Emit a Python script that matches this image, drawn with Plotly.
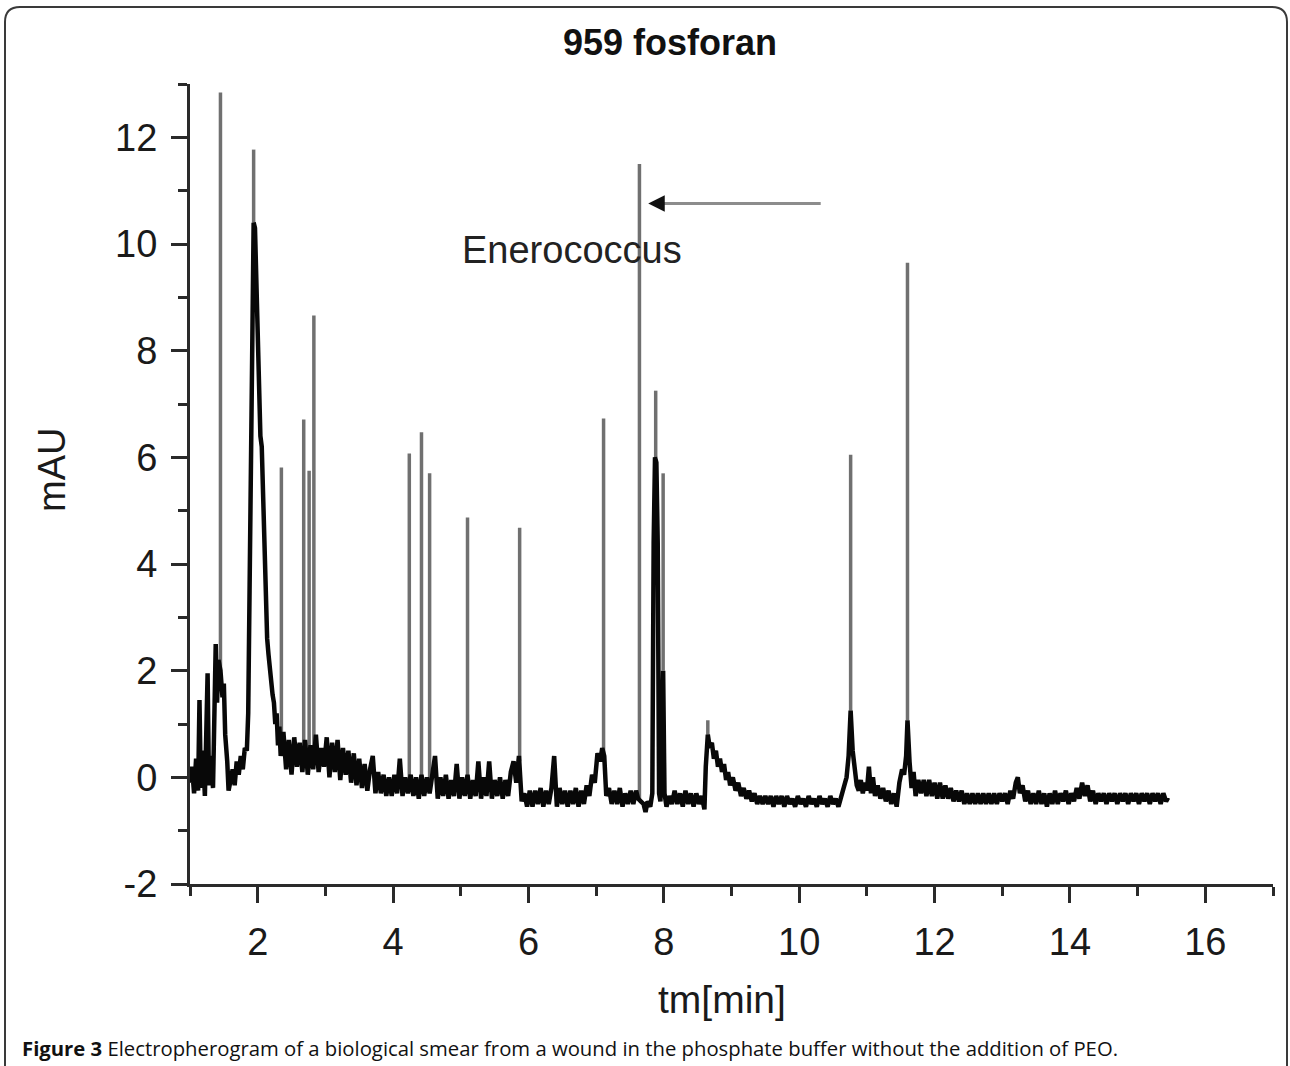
import plotly.graph_objects as go

# ---------------- data ----------------
# baseline / broad trace segments (time in min, signal in mAU)
t_early = [1.00, 1.03, 1.06, 1.09, 1.12, 1.14, 1.16, 1.19, 1.22, 1.24,
           1.26, 1.28, 1.31, 1.34, 1.36, 1.38, 1.40, 1.42, 1.45, 1.48,
           1.50, 1.52, 1.55, 1.57, 1.60, 1.63, 1.66, 1.69, 1.72, 1.75,
           1.78, 1.81, 1.84, 1.86, 1.88, 1.90, 1.92, 1.94, 1.96, 1.98,
           2.00, 2.02, 2.04, 2.06, 2.08, 2.10, 2.12, 2.14, 2.16, 2.18,
           2.20, 2.22, 2.24, 2.26, 2.28, 2.30, 2.32, 2.34]
v_early = [-0.10, 0.20, -0.30, 0.35, -0.25, 1.45, -0.20, 0.50, -0.35, 0.60,
           1.95, -0.15, 0.40, -0.20, 1.20, 2.50, 1.40, 2.20, 2.00, 1.50,
           1.76, 0.80, 0.30, -0.25, -0.05, 0.15, -0.15, 0.30, 0.05, 0.40,
           0.15, 0.55, 0.50, 1.20, 3.50, 6.50, 9.20, 10.40, 10.30, 9.20,
           8.00, 6.90, 6.40, 6.20, 5.20, 4.00, 3.10, 2.60, 2.30, 2.00,
           1.75, 1.55, 1.40, 1.00, 1.20, 0.60, 0.95, 0.40]

t_mid = [2.38, 2.42, 2.46, 2.50, 2.54, 2.58, 2.62, 2.66, 2.70, 2.74,
         2.78, 2.82, 2.86, 2.90, 2.94, 2.98, 3.02, 3.06, 3.10, 3.14,
         3.18, 3.22, 3.26, 3.30, 3.34, 3.38, 3.42, 3.46, 3.50, 3.54,
         3.58, 3.62, 3.66, 3.70, 3.74, 3.78, 3.82, 3.86, 3.90, 3.94,
         3.98, 4.02, 4.06, 4.10, 4.14, 4.18, 4.22, 4.26, 4.30, 4.34,
         4.38, 4.42, 4.46, 4.50, 4.54, 4.58, 4.62, 4.66, 4.70, 4.74,
         4.78, 4.82, 4.86, 4.90, 4.94, 4.98, 5.02, 5.06, 5.10, 5.14,
         5.18, 5.22, 5.26, 5.30, 5.34, 5.38, 5.42, 5.46, 5.50, 5.54,
         5.58, 5.62, 5.66, 5.70, 5.74, 5.78, 5.82, 5.86, 5.90, 5.94]
v_mid = [0.85, 0.15, 0.70, 0.05, 0.75, 0.20, 0.65, 0.10, 0.70, 0.05,
         0.60, 0.15, 0.80, 0.10, 0.55, 0.20, 0.75, 0.00, 0.65, 0.10,
         0.70, -0.05, 0.55, 0.05, 0.50, -0.10, 0.45, -0.15, 0.35, -0.20,
         0.25, -0.25, 0.15, 0.40, -0.30, 0.10, -0.30, 0.05, -0.35, 0.00,
         -0.35, 0.05, -0.30, 0.35, -0.35, 0.00, -0.30, 0.05, -0.35, 0.00,
         -0.40, 0.05, -0.35, 0.00, -0.30, 0.05, 0.40, -0.40, 0.00, -0.35,
         0.05, -0.40, -0.05, -0.35, 0.25, -0.40, 0.00, -0.35, 0.05, -0.40,
         -0.05, -0.35, 0.30, -0.40, 0.00, -0.35, 0.30, -0.40, -0.05, -0.35,
         0.00, -0.40, -0.05, -0.35, 0.10, 0.30, -0.10, 0.40, -0.45, -0.30]

t_late = [5.98, 6.02, 6.06, 6.10, 6.14, 6.18, 6.22, 6.26, 6.30, 6.34,
          6.38, 6.42, 6.46, 6.50, 6.54, 6.58, 6.62, 6.66, 6.70, 6.74,
          6.78, 6.82, 6.86, 6.90, 6.94, 6.98, 7.02, 7.06, 7.09, 7.12,
          7.15, 7.19, 7.23, 7.27, 7.31, 7.35, 7.39, 7.43, 7.47, 7.51,
          7.55, 7.59, 7.62, 7.66, 7.70, 7.73, 7.76, 7.80, 7.83, 7.85,
          7.87, 7.89, 7.91, 7.93, 7.95, 7.97, 7.99, 8.01, 8.04, 8.08,
          8.12, 8.16, 8.20, 8.24, 8.28, 8.32, 8.36, 8.40, 8.44, 8.48,
          8.52, 8.56, 8.60, 8.62, 8.65, 8.68, 8.71, 8.74, 8.77, 8.80,
          8.83, 8.86, 8.89, 8.92, 8.95, 8.98, 9.02, 9.06, 9.10, 9.14,
          9.18, 9.22, 9.26, 9.30, 9.34, 9.38, 9.42, 9.46, 9.50, 9.54,
          9.58, 9.62, 9.66, 9.70, 9.74, 9.78, 9.82, 9.86, 9.90, 9.94,
          9.98, 10.02, 10.06, 10.10, 10.14, 10.18, 10.22, 10.26, 10.30, 10.34,
          10.38, 10.42, 10.46, 10.50, 10.54, 10.58, 10.62]
v_late = [-0.55, -0.25, -0.55, -0.25, -0.50, -0.20, -0.55, -0.25, -0.50, -0.20,
          0.40, -0.55, -0.20, -0.50, -0.25, -0.55, -0.25, -0.50, -0.20, -0.55,
          -0.25, -0.50, -0.15, -0.35, 0.05, -0.10, 0.45, 0.30, 0.55, 0.40,
          -0.35, -0.20, -0.50, -0.25, -0.50, -0.20, -0.55, -0.30, -0.50, -0.25,
          -0.50, -0.25, -0.40, -0.45, -0.50, -0.65, -0.45, -0.55, -0.30, 4.40,
          6.00, 5.90, 4.40, -0.30, -0.45, 0.50, 2.00, -0.30, -0.55, -0.35,
          -0.50, -0.25, -0.50, -0.30, -0.55, -0.25, -0.50, -0.30, -0.55, -0.30,
          -0.50, -0.35, -0.60, 0.20, 0.80, 0.55, 0.65, 0.35, 0.50, 0.20,
          0.35, 0.10, 0.25, -0.05, 0.10, -0.15, 0.00, -0.25, -0.10, -0.35,
          -0.20, -0.40, -0.25, -0.45, -0.30, -0.50, -0.35, -0.50, -0.35, -0.50,
          -0.35, -0.55, -0.35, -0.50, -0.35, -0.55, -0.35, -0.50, -0.40, -0.55,
          -0.35, -0.50, -0.40, -0.55, -0.35, -0.50, -0.40, -0.55, -0.35, -0.50,
          -0.40, -0.55, -0.35, -0.50, -0.40, -0.55, -0.35]

t_tail1 = [10.66, 10.70, 10.73, 10.76, 10.79, 10.82, 10.85, 10.88, 10.91, 10.94,
           10.97, 11.00, 11.03, 11.06, 11.09, 11.12, 11.16, 11.20, 11.24, 11.28,
           11.32, 11.36, 11.40, 11.44, 11.48, 11.52, 11.55, 11.58, 11.60, 11.63,
           11.66, 11.69, 11.72, 11.76, 11.80, 11.84, 11.88, 11.92, 11.96, 12.00,
           12.04, 12.08, 12.12, 12.16, 12.20, 12.24, 12.28, 12.32, 12.36, 12.40]
v_tail1 = [-0.15, 0.00, 0.40, 1.25, 0.50, 0.20, -0.15, -0.25, -0.05, -0.30,
           -0.10, -0.25, 0.20, -0.30, 0.00, -0.35, -0.15, -0.40, -0.20, -0.45,
           -0.25, -0.50, -0.30, -0.55, -0.10, 0.15, 0.05, 0.40, 1.07, 0.30,
           -0.20, 0.10, -0.35, -0.05, -0.30, -0.05, -0.35, -0.05, -0.35, -0.10,
           -0.40, -0.10, -0.40, -0.15, -0.40, -0.20, -0.45, -0.25, -0.45, -0.25]

t_tail2 = [12.44, 12.48, 12.52, 12.56, 12.60, 12.64, 12.68, 12.72, 12.76, 12.80,
           12.84, 12.88, 12.92, 12.96, 13.00, 13.04, 13.08, 13.12, 13.16, 13.20,
           13.23, 13.26, 13.30, 13.34, 13.38, 13.42, 13.46, 13.50, 13.54, 13.58,
           13.62, 13.66, 13.70, 13.74, 13.78, 13.82, 13.86, 13.90, 13.94, 13.98,
           14.02, 14.06, 14.10, 14.14, 14.18, 14.22, 14.26, 14.30, 14.34, 14.38,
           14.42, 14.46, 14.50, 14.54, 14.58, 14.62, 14.66, 14.70, 14.74, 14.78,
           14.82, 14.86, 14.90, 14.94, 14.98, 15.02, 15.06, 15.10, 15.14, 15.18,
           15.22, 15.26, 15.30, 15.34, 15.38, 15.42, 15.45]
v_tail2 = [-0.50, -0.30, -0.50, -0.30, -0.50, -0.30, -0.50, -0.30, -0.50, -0.30,
           -0.50, -0.30, -0.50, -0.30, -0.45, -0.30, -0.50, -0.25, -0.40, -0.10,
           0.00, -0.30, -0.15, -0.45, -0.25, -0.50, -0.30, -0.50, -0.25, -0.50,
           -0.30, -0.55, -0.30, -0.50, -0.25, -0.50, -0.30, -0.45, -0.25, -0.50,
           -0.30, -0.45, -0.20, -0.40, -0.10, -0.35, -0.15, -0.45, -0.25, -0.50,
           -0.30, -0.45, -0.30, -0.50, -0.30, -0.45, -0.30, -0.50, -0.30, -0.45,
           -0.30, -0.50, -0.30, -0.45, -0.30, -0.50, -0.30, -0.45, -0.30, -0.50,
           -0.30, -0.45, -0.30, -0.50, -0.30, -0.45, -0.38]

# narrow peaks: migration time, foot level, apex height (mAU)
spike_t = [1.45, 1.94, 2.35, 2.68, 2.76, 2.83, 4.24, 4.42, 4.54,
           5.10, 5.87, 7.11, 7.64, 7.88, 7.99, 8.65, 10.76, 11.60]
spike_foot = [2.00, 10.40, 0.60, 0.40, 0.40, 0.40, -0.10, -0.10, -0.10,
              -0.20, 0.30, 0.45, -0.40, 6.00, 2.00, 0.80, 1.25, 1.07]
spike_top = [12.84, 11.77, 5.81, 6.71, 5.75, 8.66, 6.07, 6.47, 5.70,
             4.87, 4.68, 6.73, 11.50, 7.25, 5.70, 1.07, 6.05, 9.65]

x_ticks = [2, 4, 6, 8, 10, 12, 14, 16]
x_ticktext = ["2", "4", "6", "8", "10", "12", "14", "16"]
x_minor = [1, 3, 5, 7, 9, 11, 13, 15, 17]
y_ticks = [-2, 0, 2, 4, 6, 8, 10, 12]
y_ticktext = ["-2", "0", "2", "4", "6", "8", "10", "12"]
y_minor = [-1, 1, 3, 5, 7, 9, 11, 13]

title_text = "959 fosforan"
x_title = "tm[min]"
y_title = "mAU"
label_text = "Enerococcus"
label_pos = (6.64, 9.88)
arrow_tail = (10.34, 10.76)
arrow_head = (7.77, 10.76)
caption = ("<b>Figure 3</b> Electropherogram of a biological smear from a wound "
           "in the phosphate buffer without the addition of PEO.")

# ---------------- figure ----------------
base_t = t_early + t_mid + t_late + t_tail1 + t_tail2
base_v = v_early + v_mid + v_late + v_tail1 + v_tail2

sx, sy = [], []
for t, f, h in zip(spike_t, spike_foot, spike_top):
    sx += [t, t, None]
    sy += [f, h, None]

fig = go.Figure()
fig.add_trace(go.Scatter(x=sx, y=sy, mode="lines",
                         line=dict(color="#707070", width=3.5),
                         hoverinfo="skip", showlegend=False))
fig.add_trace(go.Scatter(x=base_t, y=base_v, mode="lines",
                         line=dict(color="#080808", width=4.5),
                         showlegend=False))

FONT = "Liberation Sans, Arial, sans-serif"
axis_common = dict(
    showgrid=False, zeroline=False, showline=True, linewidth=3,
    linecolor="#2a2a2a", ticks="outside", ticklen=16, tickwidth=3,
    tickcolor="#2a2a2a", ticklabelstandoff=6,
    tickfont=dict(family=FONT, size=38, color="#1a1a1a"),
)
fig.update_xaxes(range=[1, 17], tickvals=x_ticks, ticktext=x_ticktext,
                 minor=dict(tickvals=x_minor, ticks="outside", ticklen=9,
                            tickwidth=3, tickcolor="#2a2a2a"),
                 **axis_common)
fig.update_yaxes(range=[-2, 13], tickvals=y_ticks, ticktext=y_ticktext,
                 minor=dict(tickvals=y_minor, ticks="outside", ticklen=9,
                            tickwidth=3, tickcolor="#2a2a2a"),
                 **axis_common)

L, R, T, B = 190, 17, 84, 182
W, H = 1290, 1066
PW, PH = W - L - R, H - T - B


def px(xp):
    return (xp - L) / PW


def py(yp):
    return (H - B - yp) / PH


annotations = [
    dict(text="<b>" + title_text + "</b>", x=px(670), y=py(42), xref="paper",
         yref="paper", showarrow=False, xanchor="center", yanchor="middle",
         font=dict(family=FONT, size=36, color="#111")),
    dict(text=x_title, x=px(722), y=py(999), xref="paper", yref="paper",
         showarrow=False, xanchor="center", yanchor="middle",
         font=dict(family=FONT, size=39, color="#1a1a1a")),
    dict(text=y_title, x=px(52), y=py(470), xref="paper", yref="paper",
         showarrow=False, textangle=-90, xanchor="center", yanchor="middle",
         font=dict(family=FONT, size=38, color="#1a1a1a")),
    dict(text=label_text, x=label_pos[0], y=label_pos[1], xref="x", yref="y",
         showarrow=False, xanchor="center", yanchor="middle",
         font=dict(family=FONT, size=38, color="#222")),
    dict(text="", x=arrow_head[0] + 0.12, y=arrow_head[1], ax=arrow_tail[0],
         ay=arrow_tail[1], xref="x", yref="y", axref="x", ayref="y",
         showarrow=True, arrowhead=0, arrowwidth=3, arrowcolor="#8c8c8c"),
    dict(text="", x=arrow_head[0], y=arrow_head[1], ax=arrow_head[0] + 0.2,
         ay=arrow_head[1], xref="x", yref="y", axref="x", ayref="y",
         showarrow=True, arrowhead=2, arrowsize=1.1, arrowwidth=3,
         arrowcolor="#111"),
    dict(text=caption, x=px(20), y=py(1048), xref="paper", yref="paper",
         showarrow=False, xanchor="left", yanchor="middle",
         font=dict(family="Open Sans, sans-serif", size=20.3, color="#111")),
]

# rounded border around the figure
r = 15
xl, xr, yt, yb = px(5), px(1287), py(7), py(1080)
rx, ry = r / PW, r / PH
border = (f"M {xl},{yb + ry} L {xl},{yt - ry} Q {xl},{yt} {xl + rx},{yt} "
          f"L {xr - rx},{yt} Q {xr},{yt} {xr},{yt - ry} L {xr},{yb + ry} "
          f"Q {xr},{yb} {xr - rx},{yb} L {xl + rx},{yb} Q {xl},{yb} {xl},{yb + ry} Z")

fig.update_layout(
    width=W, height=H, margin=dict(l=L, r=R, t=T, b=B),
    paper_bgcolor="white", plot_bgcolor="white", showlegend=False,
    annotations=annotations,
    shapes=[dict(type="path", path=border, xref="paper", yref="paper",
                 line=dict(color="#3a3a3a", width=2), layer="below")],
)

fig.write_html("out.html")
